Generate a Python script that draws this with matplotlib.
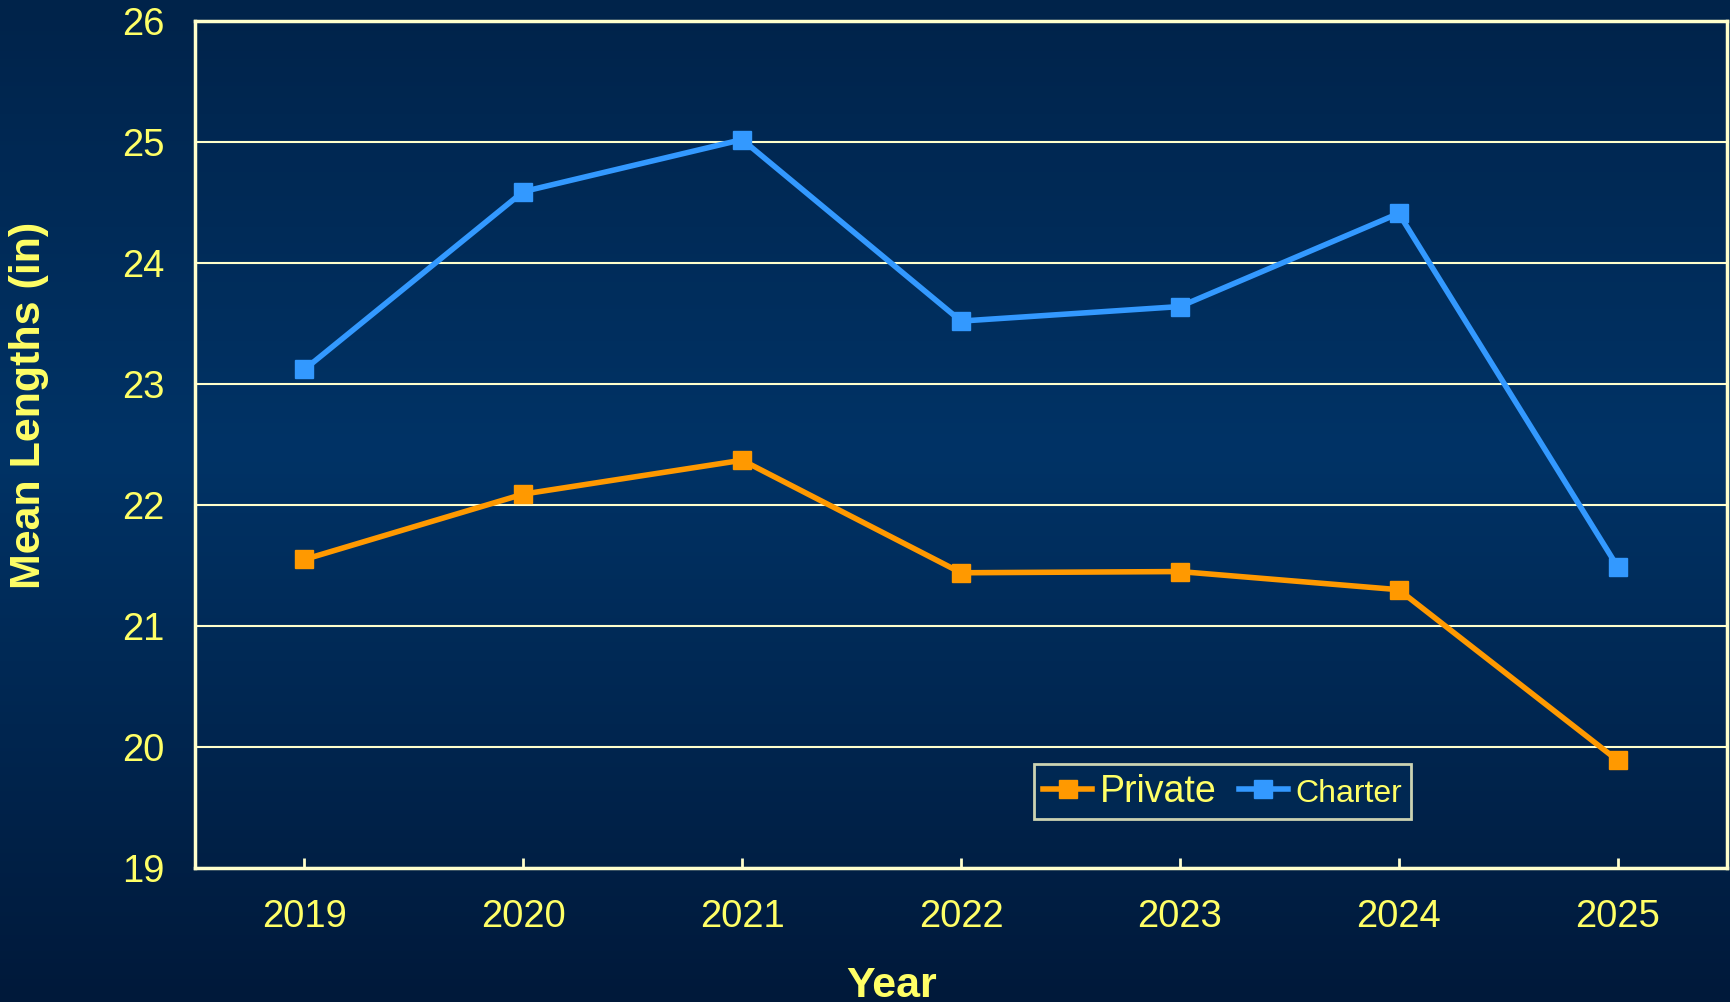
import matplotlib.pyplot as plt
import numpy as np
from matplotlib.colors import LinearSegmentedColormap

years = ['2019', '2020', '2021', '2022', '2023', '2024', '2025']
private = [21.55, 22.09, 22.37, 21.44, 21.45, 21.30, 19.89]
charter = [23.12, 24.59, 25.02, 23.52, 23.64, 24.41, 21.49]

yellow = '#FFFF66'
cream = '#FFFFCC'

fig = plt.figure(figsize=(17.31, 10.02), dpi=100)

# background gradient (dark top and bottom, lighter middle)
bg = fig.add_axes([0, 0, 1, 1])
cmap = LinearSegmentedColormap.from_list('bg', [(0.0, '#00234a'), (0.45, '#003366'), (1.0, '#00193a')])
grad = np.linspace(0, 1, 256).reshape(-1, 1)
bg.imshow(grad, aspect='auto', cmap=cmap, extent=[0, 1, 0, 1], origin='upper')
bg.axis('off')

ax = fig.add_axes([195 / 1731, 1 - 868 / 1002, (1727 - 195) / 1731, (868 - 21) / 1002])
ax.set_facecolor('none')
x = np.arange(len(years))
ax.plot(x, private, color='#FF9900', lw=4, marker='s', ms=13, label='Private', zorder=3)
ax.plot(x, charter, color='#3399FF', lw=4, marker='s', ms=13, label='Charter', zorder=3)

ax.set_xlim(-0.5, 6.5)
ax.set_ylim(19, 26)
ax.set_xticks(x)
ax.set_xticklabels(years)
ax.set_yticks(range(19, 27))
ax.yaxis.grid(True, color=cream, lw=1.5)
ax.set_axisbelow(True)
for s in ax.spines.values():
    s.set_color(cream)
    s.set_linewidth(2.5)
ax.tick_params(axis='x', direction='in', length=7, width=2, color=cream, colors=yellow,
               labelsize=27.5, pad=22)
ax.tick_params(axis='y', length=0, colors=yellow, labelsize=27.5, pad=22)
for t in ax.get_xticklabels() + ax.get_yticklabels():
    t.set_fontfamily('Liberation Sans')

ax.set_xlabel('Year', color=yellow, fontsize=31, fontweight='bold', family='Liberation Sans')
ax.xaxis.set_label_coords((808 * 1731 / 1568 - 195) / 1532, -0.116)
ax.set_ylabel('Mean Lengths (in)', color=yellow, fontsize=31, fontweight='bold', family='Liberation Sans')
ax.yaxis.set_label_coords(-0.095, 1 - (367 * 1731 / 1568 - 21) / 847)

leg = ax.legend(loc='lower left', bbox_to_anchor=((1034 - 195) / 1532, (868 - 819) / 847), ncol=2,
                frameon=True, fancybox=False, facecolor='#002a55', edgecolor=cream,
                handlelength=1.3, columnspacing=0.6, handletextpad=0.2, borderpad=0.25,
                borderaxespad=0, prop={'family': 'Liberation Sans', 'size': 27})
leg.get_frame().set_linewidth(2)
for t in leg.get_texts():
    t.set_color(yellow)
leg.get_texts()[1].set_fontsize(23)

fig.savefig('out.png', dpi=100)
